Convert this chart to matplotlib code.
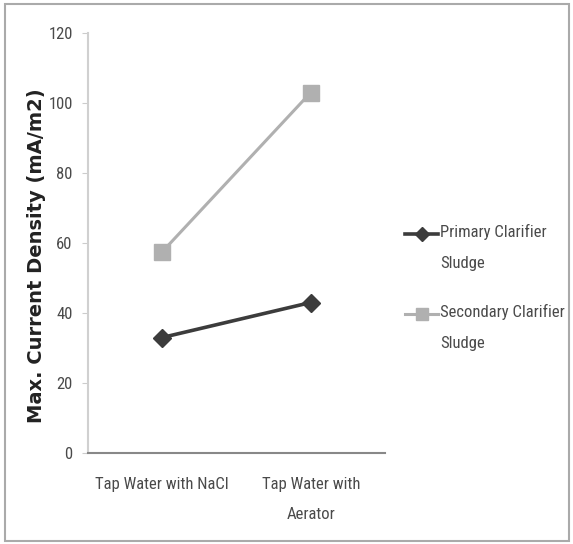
import matplotlib.pyplot as plt
from matplotlib.patches import Rectangle
from matplotlib.lines import Line2D

categories = ["Tap Water with NaCl", "Tap Water with\nAerator"]
primary = [33, 43]
secondary = [57.5, 103]
series_names = ["Primary Clarifier\nSludge", "Secondary Clarifier\nSludge"]
yticks = [0, 20, 40, 60, 80, 100, 120]

plt.rcParams["font.family"] = ["Roboto Condensed", "Open Sans Condensed", "Lato", "DejaVu Sans"]
tick_grey = "#4a4a4a"
fs = 12

fig = plt.figure(figsize=(5.73, 5.44), dpi=100)
ax = fig.add_axes([88 / 573, 1 - 453 / 544, (385 - 88) / 573, (453 - 33) / 544])

x = list(range(len(categories)))
styles = [dict(color="#3c3c3c", marker="D", ms=9, lw=2.6),
          dict(color="#b0b0b0", marker="s", ms=12, lw=2.2)]
for vals, st in zip([primary, secondary], styles):
    ax.plot(x, vals, **st)

ax.set_xlim(-0.5, 1.5)
ax.set_ylim(0, 120)
ax.set_yticks(yticks)
ax.set_xticks(x)
ax.set_xticklabels(categories, linespacing=2.3)
ax.tick_params(axis="x", length=0, pad=17, labelsize=fs, labelcolor=tick_grey)
ax.tick_params(axis="y", length=4, color="#cccccc", pad=7, labelsize=fs, labelcolor=tick_grey)

for s in ["top", "right"]:
    ax.spines[s].set_visible(False)
ax.spines["left"].set_color("#d0d0d0")
ax.spines["left"].set_linewidth(1.5)
ax.spines["bottom"].set_color("#888888")
ax.spines["bottom"].set_linewidth(1.5)

ax.set_ylabel("Max. Current Density (mA/m2)", fontsize=14, fontweight="bold",
              family="DejaVu Sans", color="#222222")
ax.yaxis.set_label_coords((46 - 88) / 297, 0.47)

# legend drawn by hand so the key sits on the first text line
leg_y = [234, 314]
for name, st, yy in zip(series_names, styles, leg_y):
    yf = 1 - yy / 544
    fig.add_artist(Line2D([405 / 573, 438 / 573], [yf, yf], transform=fig.transFigure,
                          lw=st["lw"], color=st["color"]))
    fig.add_artist(Line2D([421.5 / 573], [yf], transform=fig.transFigure,
                          marker=st["marker"], ms=st["ms"] * 0.75, color=st["color"], lw=0))
    fig.text(440 / 573, yf + 10 / 544, name, ha="left", va="top", fontsize=fs,
             color=tick_grey, linespacing=2.3)

# outer frame around the picture
fig.patches.append(Rectangle((5 / 573, 3 / 544), 564 / 573, 537 / 544,
                             transform=fig.transFigure, fill=False,
                             edgecolor="#aaaaaa", lw=1.5))

fig.savefig("out.png", dpi=100)
